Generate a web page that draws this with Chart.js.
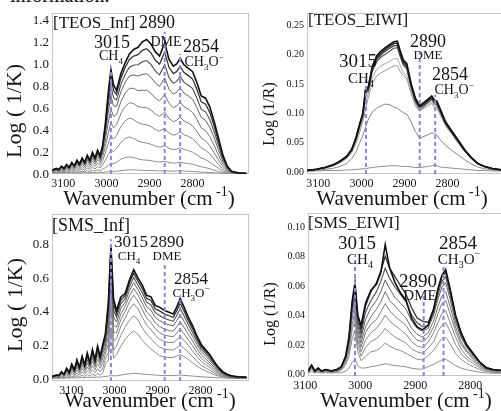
<!doctype html>
<html lang="en">
<head>
  <meta charset="utf-8">
  <title>CH4 / DME spectra</title>
  <script src="https://cdn.jsdelivr.net/npm/chart.js@4.4.0/dist/chart.umd.min.js"></script>
  <style>
    html, body { margin: 0; padding: 0; background: #fff; }
    body { width: 501px; height: 411px; overflow: hidden; position: relative; }
    canvas { position: absolute; }
    #cut { position: absolute; left: 10px; top: -15px; font: 20px "Liberation Serif", serif; line-height: 20px; color: #111; }
    .ytick { position: absolute; font-family: "Liberation Serif", serif; line-height: 1; color: #151515;
             transform: translate(-100%, -50%); white-space: nowrap; z-index: 2; }
  </style>
</head>
<body>
  <div id="cut">information.</div>
  <canvas id="teosInf"></canvas>
  <canvas id="teosEiwi"></canvas>
  <canvas id="smsInf"></canvas>
  <canvas id="smsEiwi"></canvas>

  <script>
    // wavenumber grids (cm-1)
    const wnInf = [3152,3142,3136,3130,3124,3118,3112,3106,3100,3094,3088,3082,3076,3070,3064,3058,3052,3046,3040,3034,
      3028,3021,3015,3009,3002,2992,2982,2972,2962,2952,2942,2932,2922,2912,2902,2890,2880,2870,2862,2854,
      2845,2835,2825,2815,2805,2795,2785,2775,2765,2755,2745,2735,2720,2700];
    const wnTeosEiwi = [3152,3130,3110,3090,3075,3060,3048,3038,3030,3022,3016,3010,3000,2990,2980,2970,2960,2950,2942,2935,
      2928,2920,2910,2900,2890,2880,2870,2862,2856,2850,2842,2830,2815,2800,2785,2770,2755,2740,2720,2700];
    const wnSmsEiwi = [3100,3094,3088,3082,3076,3068,3058,3048,3040,3032,3026,3020,3015,3010,3004,2996,2986,2976,2968,2960,
      2952,2942,2932,2922,2912,2902,2892,2882,2872,2864,2857,2850,2842,2832,2822,2812,2800,2788,2776,2764,2750,2735];

    // TEOS_Inf, bottom spectrum first
    const teosInf = [
      [.003,.004,.003,.005,.004,.005,.004,.006,.005,.007,.005,.007,.006,.008,.006,.009,.007,.009,.008,.01,
       .012,.015,.02,.018,.02,.025,.03,.032,.033,.03,.028,.027,.026,.024,.023,.024,.022,.02,.022,.025,
       .022,.02,.018,.015,.012,.01,.008,.006,.004,.002,.001,0,0,0],
      [.005,.007,.005,.01,.007,.012,.008,.015,.011,.018,.013,.021,.015,.025,.018,.029,.021,.032,.024,.039,
       .053,.075,.093,.087,.102,.128,.144,.15,.143,.131,.123,.12,.116,.108,.104,.108,.099,.093,.096,.102,
       .095,.09,.083,.072,.06,.053,.042,.03,.018,.009,.005,.002,0,0],
      [.009,.014,.011,.02,.014,.024,.017,.03,.021,.036,.026,.042,.03,.05,.036,.057,.042,.063,.048,.078,
       .118,.171,.213,.197,.225,.28,.316,.33,.316,.293,.28,.275,.264,.248,.237,.25,.227,.214,.22,.234,
       .217,.207,.191,.168,.14,.125,.102,.074,.046,.023,.011,.004,0,0],
      [.014,.02,.016,.029,.02,.036,.025,.045,.032,.054,.038,.063,.045,.074,.054,.086,.063,.095,.072,.117,
       .184,.273,.342,.31,.342,.423,.476,.5,.486,.459,.446,.44,.424,.398,.382,.407,.367,.345,.355,.376,
       .35,.335,.313,.275,.231,.21,.175,.13,.082,.042,.02,.006,0,0],
      [.018,.027,.021,.039,.027,.048,.033,.06,.042,.072,.051,.084,.06,.099,.072,.114,.084,.126,.096,.156,
       .241,.367,.461,.412,.439,.54,.605,.64,.63,.604,.597,.594,.573,.538,.516,.556,.498,.468,.481,.508,
       .474,.456,.429,.379,.319,.296,.25,.188,.122,.063,.028,.009,.001,0],
      [.022,.032,.025,.047,.032,.058,.04,.072,.05,.086,.061,.101,.072,.119,.086,.137,.101,.151,.115,.187,
       .298,.464,.584,.515,.53,.648,.725,.77,.768,.748,.751,.752,.725,.681,.655,.712,.633,.595,.61,.644,
       .602,.581,.551,.487,.413,.388,.333,.253,.167,.087,.038,.012,.002,0],
      [.025,.037,.029,.053,.037,.066,.045,.082,.057,.098,.07,.115,.082,.135,.098,.156,.115,.172,.131,.213,
       .349,.554,.7,.61,.607,.737,.824,.88,.89,.88,.895,.901,.87,.818,.787,.863,.762,.717,.734,.773,
       .725,.7,.67,.594,.505,.48,.416,.321,.214,.113,.048,.014,.003,0],
      [.027,.041,.032,.059,.041,.072,.05,.09,.063,.108,.077,.126,.09,.149,.108,.171,.126,.189,.144,.234,
       .389,.626,.792,.684,.663,.803,.895,.96,.98,.982,1.01,1.02,.986,.927,.891,.985,.865,.814,.832,.876,
       .823,.797,.766,.68,.579,.557,.486,.377,.254,.134,.056,.017,.004,0],
      [.029,.043,.033,.062,.043,.076,.052,.095,.067,.114,.081,.133,.095,.157,.114,.18,.133,.2,.152,.247,
       .424,.69,.876,.75,.713,.859,.957,1.03,1.061,1.073,1.112,1.127,1.09,1.025,.987,1.096,.959,.902,.922,.968,
       .911,.884,.853,.758,.647,.626,.55,.428,.29,.153,.064,.019,.005,0],
      [.03,.045,.035,.065,.045,.08,.055,.1,.07,.12,.085,.14,.1,.165,.12,.19,.14,.21,.16,.26,
       .45,.74,.94,.8,.75,.9,1,1.08,1.12,1.14,1.19,1.21,1.17,1.1,1.06,1.18,1.03,.97,.99,1.04,
       .98,.95,.92,.82,.7,.68,.6,.47,.32,.17,.07,.02,.005,0]
    ];

    // TEOS_EIWI
    const teosEiwi = [
      [.001,.001,.002,.002,.002,.003,.003,.004,.004,.005,.005,.006,.007,.008,.009,.009,.01,.01,.01,.009,
       .009,.009,.008,.007,.007,.008,.009,.01,.011,.01,.008,.007,.006,.005,.004,.003,.002,.002,.001,.001],
      [.001,.002,.004,.006,.009,.014,.022,.034,.048,.062,.075,.088,.102,.108,.112,.115,.114,.11,.108,.104,
       .1,.098,.085,.068,.057,.06,.063,.066,.065,.062,.054,.045,.036,.028,.02,.013,.008,.005,.003,.002],
      [.002,.003,.006,.01,.015,.022,.032,.048,.066,.086,.105,.125,.15,.163,.168,.172,.176,.18,.18,.17,
       .163,.158,.133,.112,.103,.108,.112,.116,.11,.108,.096,.078,.063,.048,.034,.022,.013,.008,.004,.002],
      [.002,.004,.006,.011,.016,.023,.034,.051,.07,.091,.118,.132,.16,.174,.18,.184,.188,.192,.193,.18,
       .168,.163,.135,.114,.104,.11,.115,.119,.113,.111,.098,.08,.064,.049,.034,.022,.013,.008,.004,.002],
      [.002,.004,.007,.011,.017,.025,.036,.055,.076,.095,.133,.136,.171,.187,.195,.2,.205,.21,.211,.195,
       .181,.175,.143,.119,.106,.112,.118,.123,.116,.114,.101,.081,.066,.05,.035,.023,.013,.009,.005,.003],
      [.002,.004,.007,.012,.017,.025,.037,.056,.078,.097,.136,.139,.175,.191,.199,.205,.21,.214,.215,.199,
       .184,.178,.146,.121,.109,.114,.12,.125,.118,.116,.103,.082,.067,.051,.036,.023,.014,.009,.005,.003],
      [.002,.004,.007,.012,.018,.026,.037,.057,.079,.099,.138,.141,.177,.194,.202,.208,.213,.218,.219,.202,
       .187,.181,.148,.123,.11,.116,.122,.127,.12,.118,.104,.084,.068,.052,.036,.024,.014,.009,.005,.003],
      [.002,.004,.007,.012,.018,.026,.038,.058,.08,.1,.14,.143,.18,.197,.205,.211,.216,.221,.222,.205,
       .19,.184,.15,.125,.112,.118,.124,.129,.122,.12,.106,.085,.069,.053,.037,.024,.014,.009,.005,.003]
    ];

    // SMS_Inf (same grid as TEOS_Inf)
    const smsInf = [
      [.001,.001,.001,.002,.001,.003,.002,.004,.003,.005,.003,.006,.004,.007,.005,.008,.006,.009,.007,.01,
       .012,.013,.02,.015,.016,.02,.024,.027,.03,.029,.026,.024,.022,.02,.018,.017,.017,.017,.018,.02,
       .018,.016,.014,.012,.01,.008,.007,.005,.004,.003,.002,.001,.001,.001],
      [.002,.003,.003,.006,.004,.009,.005,.013,.008,.017,.01,.02,.012,.023,.014,.026,.017,.029,.02,.03,
       .084,.106,.3,.118,.14,.19,.23,.26,.28,.26,.224,.196,.174,.154,.134,.126,.123,.123,.132,.14,
       .129,.112,.092,.073,.056,.045,.034,.022,.014,.008,.004,.002,.001,0],
      [.004,.006,.005,.012,.008,.018,.011,.026,.015,.033,.02,.039,.024,.045,.029,.051,.033,.057,.039,.06,
       .115,.152,.45,.167,.19,.254,.302,.343,.37,.344,.298,.262,.234,.208,.184,.173,.169,.168,.181,.194,
       .178,.154,.128,.101,.078,.063,.048,.033,.02,.012,.007,.004,.002,0],
      [.005,.009,.008,.018,.011,.027,.016,.038,.023,.05,.029,.059,.036,.068,.043,.077,.05,.086,.059,.09,
       .144,.203,.57,.22,.234,.307,.356,.407,.44,.409,.359,.315,.287,.256,.231,.217,.212,.211,.227,.246,
       .224,.194,.162,.129,.1,.082,.064,.044,.028,.017,.009,.005,.003,.001],
      [.007,.012,.011,.024,.015,.036,.021,.051,.03,.066,.039,.078,.048,.09,.057,.102,.066,.114,.078,.12,
       .168,.249,.65,.268,.27,.347,.394,.451,.49,.454,.404,.356,.329,.294,.27,.255,.249,.246,.267,.291,
       .264,.228,.192,.153,.12,.099,.078,.054,.035,.021,.012,.007,.004,.002],
      [.009,.014,.013,.029,.018,.043,.025,.061,.036,.079,.047,.094,.058,.108,.068,.122,.079,.137,.094,.144,
       .19,.296,.7,.314,.302,.381,.423,.486,.53,.491,.441,.39,.367,.328,.306,.29,.282,.278,.304,.333,
       .301,.26,.22,.176,.139,.116,.092,.065,.042,.026,.015,.009,.006,.004],
      [.01,.016,.015,.033,.021,.049,.029,.07,.041,.09,.053,.107,.066,.123,.078,.139,.09,.156,.107,.164,
       .211,.342,.73,.362,.332,.412,.448,.516,.565,.522,.475,.421,.402,.359,.341,.324,.315,.31,.339,.375,
       .337,.29,.247,.199,.158,.132,.107,.075,.049,.03,.018,.011,.007,.005],
      [.011,.018,.016,.036,.023,.054,.032,.077,.045,.099,.059,.117,.072,.135,.086,.153,.099,.171,.117,.18,
       .23,.383,.75,.403,.359,.439,.469,.541,.595,.549,.505,.449,.433,.387,.371,.353,.344,.337,.371,.412,
       .369,.318,.271,.219,.174,.147,.12,.085,.055,.034,.021,.013,.008,.006],
      [.011,.019,.017,.038,.024,.057,.033,.081,.048,.105,.062,.124,.076,.143,.09,.162,.105,.181,.124,.19,
       .247,.42,.77,.44,.381,.461,.487,.563,.62,.572,.53,.472,.459,.41,.398,.379,.369,.36,.398,.443,
       .397,.341,.292,.236,.188,.16,.131,.093,.061,.037,.023,.015,.009,.007],
      [.012,.02,.018,.04,.025,.06,.035,.085,.05,.11,.065,.13,.08,.15,.095,.17,.11,.19,.13,.2,
       .26,.45,.78,.47,.4,.48,.5,.58,.64,.59,.55,.49,.48,.43,.42,.4,.39,.38,.42,.47,
       .42,.36,.31,.25,.2,.17,.14,.1,.065,.04,.025,.016,.01,.008]
    ];

    // SMS_EIWI
    const smsEiwi = [
      [.0006,.0018,.0006,.0012,.0006,.0009,.0006,.0009,.0008,.002,.004,.008,.01,.0058,.004,.0041,.0049,.0055,.0062,.007,
       .0063,.0057,.0053,.0048,.0039,.0034,.0032,.005,.0064,.0082,.0095,.01,.0082,.0057,.004,.0029,.002,.0012,.0007,.0005,.0004,.0003],
      [.001,.003,.001,.002,.001,.0015,.001,.0015,.0024,.006,.012,.024,.03,.0153,.009,.012,.015,.016,.018,.021,
       .019,.017,.016,.014,.012,.01,.0095,.0125,.016,.0205,.024,.025,.0205,.014,.01,.0073,.005,.003,.0016,.0011,.0009,.0008],
      [.0012,.0036,.0012,.0024,.0012,.0018,.0012,.0018,.003,.0074,.015,.03,.037,.0195,.012,.018,.022,.024,.027,.031,
       .028,.025,.023,.021,.017,.015,.014,.0175,.022,.029,.033,.035,.029,.02,.014,.01,.007,.0042,.0023,.0016,.0012,.001],
      [.0014,.0042,.0014,.0028,.0014,.0021,.0014,.0021,.0034,.0086,.017,.034,.043,.023,.015,.023,.028,.031,.035,.04,
       .036,.033,.03,.027,.022,.019,.018,.0215,.028,.035,.041,.043,.035,.025,.017,.012,.0086,.0052,.0028,.0019,.0015,.0013],
      [.0016,.0048,.0016,.0032,.0016,.0024,.0016,.0024,.0038,.0096,.019,.038,.048,.027,.018,.028,.034,.037,.042,.048,
       .043,.039,.036,.033,.027,.023,.022,.025,.032,.041,.048,.05,.041,.029,.02,.015,.01,.006,.0033,.0023,.0018,.0015],
      [.0017,.0051,.0017,.0034,.0017,.0026,.0017,.0026,.0042,.0104,.021,.042,.052,.03,.021,.032,.039,.044,.049,.056,
       .05,.046,.042,.038,.031,.027,.025,.028,.036,.046,.053,.056,.046,.032,.022,.016,.011,.0067,.0036,.0025,.002,.0017],
      [.0018,.0054,.0018,.0036,.0018,.0027,.0018,.0027,.0044,.011,.022,.044,.055,.033,.024,.037,.045,.05,.056,.064,
       .058,.052,.048,.044,.036,.031,.029,.031,.04,.051,.059,.062,.051,.035,.025,.018,.012,.0074,.004,.0028,.0022,.0019],
      [.002,.0057,.002,.0038,.002,.0029,.002,.0029,.0046,.0116,.023,.046,.058,.036,.027,.042,.05,.056,.063,.072,
       .065,.059,.054,.049,.04,.035,.032,.033,.042,.054,.063,.066,.054,.038,.026,.019,.013,.008,.0043,.003,.0023,.002],
      [.002,.006,.002,.004,.002,.003,.002,.003,.0048,.012,.024,.048,.06,.039,.03,.046,.056,.062,.07,.08,
       .072,.066,.06,.054,.045,.038,.036,.035,.044,.057,.066,.069,.057,.039,.028,.02,.014,.008,.0045,.003,.0024,.002],
      [.002,.006,.002,.004,.002,.003,.002,.003,.005,.012,.025,.05,.062,.04,.033,.048,.057,.061,.069,.088,
       .072,.062,.055,.05,.038,.032,.03,.033,.044,.058,.067,.071,.058,.04,.028,.02,.014,.008,.004,.003,.0025,.002]
    ];

    // marker bands and how high their dashed lines reach in each panel
    const bandWn = [3015, 2890, 2854];
    const bandTopTeosInf = [0.96, 1.28, 1.08];
    const bandTopTeosEiwi = [0.157, 0.203, 0.131];
    const bandTopSmsInf = [0.82, 0.68, 0.47];
    const bandTopSmsEiwi = [0.08, 0.053, 0.073];

    // ticks
    const xTicks = [3100, 3000, 2900, 2800];
    const yTicksTeosInf = [0, 0.2, 0.4, 0.6, 0.8, 1.0, 1.2, 1.4];
    const yTicksTeosEiwi = [0, 0.05, 0.10, 0.15, 0.20, 0.25];
    const yTicksSmsInf = [0, 0.2, 0.4, 0.6, 0.8];
    const yTicksSmsEiwi = [0, 0.02, 0.04, 0.06, 0.08, 0.10];

    const SERIF = '"Liberation Serif", serif';
    const BAND_COLOR = '#9b7ae8';
    const grayTen = ['#8e8e8e','#8e8e8e','#8a8a8a','#848484','#7c7c7c','#717171','#626262','#4e4e4e','#333333','#111111'];
    const widthTen = [1,1,1,1,1,1,1,1.1,1.3,1.6];
    const grayEight = ['#8e8e8e','#858585','#9a9a9a','#a8a8a8','#555555','#404040','#2a2a2a','#111111'];
    const widthEight = [1,1,1,1,1.2,1.3,1.4,1.6];

    const CH4 = [['CH','n'],['4','sub']];
    const CH3O = [['CH','n'],['3','sub'],['O','n'],['\u2212','sup']];

    const panels = [
      { id: 'teosInf', box: [0, 0, 250, 216], plot: [52, 13, 249, 174],
        wn: wnInf, series: teosInf, tops: bandTopTeosInf, colors: grayTen, widths: widthTen,
        x: [2694, 3152], y: [-0.005, 1.45], yTicks: yTicksTeosInf, yDec: 1, yTickSize: 13, labelOffset: -11,
        yTitle: 'Log ( 1/K)', yTitleSize: 22, yTitleAt: [15, 111], xTitleAt: [149, 205],
        notes: [
          { parts: [['[TEOS_Inf]','n']], x: 53, y: 28, size: 17, align: 'left' },
          { parts: [['2890','n']], x: 157, y: 28, size: 18 },
          { parts: [['3015','n']], x: 112, y: 48, size: 18 },
          { parts: CH4, x: 111, y: 60, size: 14 },
          { parts: [['DME','n']], x: 166, y: 46, size: 14 },
          { parts: [['2854','n']], x: 201, y: 52, size: 18 },
          { parts: CH3O, x: 204, y: 66, size: 14 }
        ] },
      { id: 'teosEiwi', box: [250, 0, 256, 216], plot: [307, 13, 504, 174],
        wn: wnTeosEiwi, series: teosEiwi, tops: bandTopTeosEiwi, colors: grayEight, widths: widthEight,
        x: [2694, 3152], y: [-0.004, 0.27], yTicks: yTicksTeosEiwi, yDec: 2, yTickSize: 10, labelOffset: -11,
        yTitle: 'Log (1/R)', yTitleSize: 16, yTitleAt: [270, 114], xTitleAt: [402, 205],
        notes: [
          { parts: [['[TEOS_EIWI]','n']], x: 308, y: 25, size: 17, align: 'left' },
          { parts: [['3015','n']], x: 358, y: 67, size: 19 },
          { parts: CH4, x: 361, y: 83, size: 15 },
          { parts: [['2890','n']], x: 428, y: 47, size: 18 },
          { parts: [['DME','n']], x: 428, y: 59, size: 13 },
          { parts: [['2854','n']], x: 450, y: 80, size: 18 },
          { parts: CH3O, x: 454, y: 94, size: 14 }
        ] },
      { id: 'smsInf', box: [0, 200, 250, 211], plot: [52, 214, 249, 381],
        wn: wnInf, series: smsInf, tops: bandTopSmsInf, colors: grayTen, widths: widthTen,
        x: [2694, 3152], y: [-0.015, 0.968], yTicks: yTicksSmsInf, yDec: 1, yTickSize: 13, labelOffset: -3,
        yTitle: 'Log ( 1/K)', yTitleSize: 22, yTitleAt: [16, 305], xTitleAt: [150, 407],
        notes: [
          { parts: [['[SMS_Inf]','n']], x: 52, y: 231, size: 18, align: 'left' },
          { parts: [['3015','n']], x: 131, y: 247, size: 17 },
          { parts: CH4, x: 129, y: 260, size: 13 },
          { parts: [['2890','n']], x: 167, y: 247, size: 17 },
          { parts: [['DME','n']], x: 167, y: 260, size: 13 },
          { parts: [['2854','n']], x: 191, y: 284, size: 17 },
          { parts: CH3O, x: 191, y: 297, size: 13 }
        ] },
      { id: 'smsEiwi', box: [250, 200, 262, 211], plot: [308, 213, 510, 376],
        wn: wnSmsEiwi, series: smsEiwi, tops: bandTopSmsEiwi, colors: grayTen, widths: widthTen,
        x: [2733, 3100.5], y: [-0.0014, 0.1095], yTicks: yTicksSmsEiwi, yDec: 2, yTickSize: 10, labelOffset: -3,
        yTitle: 'Log (1/R)', yTitleSize: 16, yTitleAt: [271, 314], xTitleAt: [406, 407],
        notes: [
          { parts: [['[SMS_EIWI]','n']], x: 308, y: 228, size: 17, align: 'left' },
          { parts: [['3015','n']], x: 357, y: 249, size: 19 },
          { parts: CH4, x: 360, y: 264, size: 15 },
          { parts: [['2890','n']], x: 418, y: 287, size: 19 },
          { parts: [['DME','n']], x: 420, y: 300, size: 15 },
          { parts: [['2854','n']], x: 458, y: 249, size: 19 },
          { parts: CH3O, x: 459, y: 264, size: 15 }
        ] }
    ];

    // text with sub/superscripts, x is centre (or left edge)
    function drawParts(ctx, parts, x, y, size, align) {
      const fontFor = m => (m === 'n' ? size : Math.round(size * 0.66)) + 'px ' + SERIF;
      let w = 0;
      parts.forEach(([t, m]) => { ctx.font = fontFor(m); w += ctx.measureText(t).width; });
      let cx = align === 'left' ? x : x - w / 2;
      ctx.textAlign = 'left';
      ctx.textBaseline = 'alphabetic';
      parts.forEach(([t, m]) => {
        ctx.font = fontFor(m);
        const dy = m === 'sub' ? size * 0.28 : (m === 'sup' ? -size * 0.45 : 0);
        ctx.fillText(t, cx, y + dy);
        cx += ctx.measureText(t).width;
      });
    }

    function figPlugin(p) {
      const bl = p.box[0], bt = p.box[1];
      return {
        id: 'fig_' + p.id,
        beforeDatasetsDraw(chart) {
          const ctx = chart.ctx, a = chart.chartArea;
          ctx.save();
          ctx.strokeStyle = '#c6c6c6';
          ctx.lineWidth = 1;
          ctx.strokeRect(a.left + 0.5, a.top + 0.5, a.right - a.left - 1, a.bottom - a.top - 1);
          ctx.restore();
        },
        afterDraw(chart) {
          const ctx = chart.ctx;
          ctx.save();
          ctx.fillStyle = '#151515';
          p.notes.forEach(n => drawParts(ctx, n.parts, n.x - bl, n.y - bt, n.size, n.align));
          drawParts(ctx, [['Wavenumber (cm','n'],[' -1','sup'],[')','n']],
                    p.xTitleAt[0] - bl, p.xTitleAt[1] - bt, 21, 'center');
          ctx.translate(p.yTitleAt[0] - bl, p.yTitleAt[1] - bt);
          ctx.rotate(-Math.PI / 2);
          ctx.font = p.yTitleSize + 'px ' + SERIF;
          ctx.textAlign = 'center';
          ctx.textBaseline = 'middle';
          ctx.fillText(p.yTitle, 0, 0);
          ctx.restore();
        }
      };
    }

    Chart.defaults.font.family = SERIF;

    panels.forEach(p => {
      const [bl, bt, bw, bh] = p.box;
      const cv = document.getElementById(p.id);
      cv.width = bw;
      cv.height = bh;
      cv.style.left = bl + 'px';
      cv.style.top = bt + 'px';

      const n = p.series.length;
      const datasets = p.series.map((vals, i) => ({
        data: p.wn.map((w, k) => ({ x: w, y: vals[k] })),
        borderColor: p.colors[i],
        borderWidth: p.widths[i],
        showLine: true, pointRadius: 0, tension: 0, fill: false,
        order: n - i + 1
      }));
      bandWn.forEach((w, i) => datasets.push({
        data: [{ x: w, y: p.y[0] }, { x: w, y: p.tops[i] }],
        borderColor: BAND_COLOR, borderWidth: 2, borderDash: [4, 3],
        showLine: true, pointRadius: 0, fill: false, order: 0
      }));

      const chart = new Chart(cv, {
        type: 'scatter',
        data: { datasets },
        options: {
          responsive: false,
          animation: false,
          devicePixelRatio: 1,
          events: [],
          layout: { padding: { top: p.plot[1] - bt, right: bl + bw - p.plot[2], left: 0, bottom: 0 } },
          plugins: { legend: { display: false }, tooltip: { enabled: false } },
          scales: {
            x: {
              type: 'linear', reverse: true, min: p.x[0], max: p.x[1],
              grid: { display: false, drawTicks: false }, border: { display: false },
              afterBuildTicks: s => { s.ticks = xTicks.map(v => ({ value: v })); },
              afterFit: s => { s.height = bt + bh - p.plot[3]; },
              ticks: { color: '#151515', font: { size: 12 }, padding: 3, maxRotation: 0, autoSkip: false,
                       labelOffset: p.labelOffset, callback: v => String(v) }
            },
            y: {
              type: 'linear', min: p.y[0], max: p.y[1],
              grid: { display: false, drawTicks: false }, border: { display: false },
              afterBuildTicks: s => { s.ticks = p.yTicks.map(v => ({ value: v })); },
              afterFit: s => { s.width = p.plot[0] - bl; },
              ticks: { display: false }
            }
          }
        },
        plugins: [figPlugin(p)]
      });

      // y tick labels as page text, placed with the chart's own y scale
      const ys = chart.scales.y, a = chart.chartArea;
      p.yTicks.forEach(v => {
        const s = document.createElement('span');
        s.className = 'ytick';
        s.textContent = v.toFixed(p.yDec);
        s.style.fontSize = p.yTickSize + 'px';
        s.style.left = (bl + a.left - 3) + 'px';
        s.style.top = (bt + ys.getPixelForValue(v)) + 'px';
        document.body.appendChild(s);
      });
    });
  </script>
</body>
</html>
